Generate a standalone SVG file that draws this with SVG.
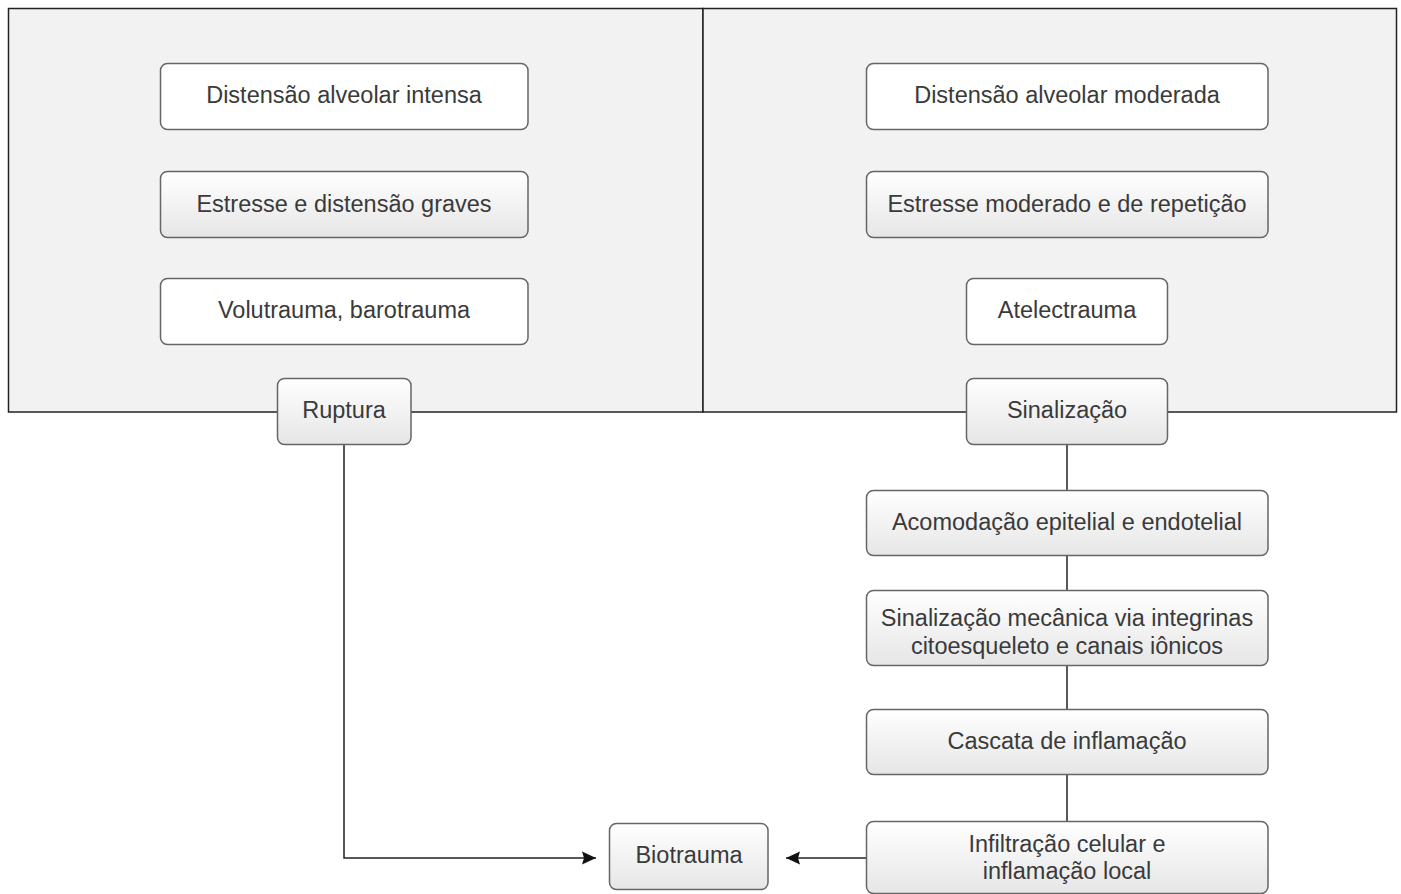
<svg xmlns="http://www.w3.org/2000/svg" width="1401" height="894" viewBox="0 0 1401 894">
<defs>
<linearGradient id="g" x1="0" y1="0" x2="0" y2="1">
<stop offset="0" stop-color="#ffffff"/>
<stop offset="1" stop-color="#e6e6e6"/>
</linearGradient>
<marker id="arr" viewBox="0 0 14 14" refX="14" refY="7" markerWidth="14" markerHeight="14" markerUnits="userSpaceOnUse" orient="auto">
<path d="M0,0.5 L14,7 L0,13.5 L2,7 Z" fill="#111"/>
</marker>
</defs>
<style>
.panel{fill:#f2f2f2;stroke:#222;stroke-width:1.5}
.w{fill:#ffffff;stroke:#666;stroke-width:1.5}
.gr{fill:url(#g);stroke:#666;stroke-width:1.5}
text{font-family:"Liberation Sans",Arial,sans-serif;font-size:23.5px;fill:#3a3a3a;text-anchor:middle}
.c{fill:none;stroke:#222;stroke-width:1.5}
</style>
<rect width="1401" height="894" fill="#ffffff"/>
<g id="panel-left"><rect class="panel" x="8.5" y="8.5" width="694.5" height="403.5"/></g>
<g id="panel-right"><rect class="panel" x="703" y="8.5" width="693.5" height="403.5"/></g>
<g id="connectors">
<path class="c" d="M344,444 V858 H596" marker-end="url(#arr)"/>
<path class="c" d="M866,858 H786" marker-end="url(#arr)"/>
<path class="c" d="M1067,444 V490"/>
<path class="c" d="M1067,555 V590"/>
<path class="c" d="M1067,665 V709"/>
<path class="c" d="M1067,774 V821"/>
</g>
<g id="n1"><rect class="w" x="160.5" y="63.5" width="367.5" height="66" rx="7"/><text x="344" y="103">Distensão alveolar intensa</text></g>
<g id="n2"><rect class="gr" x="160.5" y="171.5" width="367.5" height="66" rx="7"/><text x="344" y="212">Estresse e distensão graves</text></g>
<g id="n3"><rect class="w" x="160.5" y="278.5" width="367.5" height="66" rx="7"/><text x="344" y="318">Volutrauma, barotrauma</text></g>
<g id="n4"><rect class="gr" x="277.5" y="378.5" width="133.5" height="66" rx="7"/><text x="344" y="418">Ruptura</text></g>
<g id="n5"><rect class="w" x="866.5" y="63.5" width="401.5" height="66" rx="7"/><text x="1067" y="103">Distensão alveolar moderada</text></g>
<g id="n6"><rect class="gr" x="866.5" y="171.5" width="401.5" height="66" rx="7"/><text x="1067" y="212">Estresse moderado e de repetição</text></g>
<g id="n7"><rect class="w" x="966.5" y="278.5" width="201" height="66" rx="7"/><text x="1067" y="318">Atelectrauma</text></g>
<g id="n8"><rect class="gr" x="966.5" y="378.5" width="201" height="66" rx="7"/><text x="1067" y="418">Sinalização</text></g>
<g id="n9"><rect class="gr" x="866.5" y="490.5" width="401.5" height="65" rx="7"/><text x="1067" y="530">Acomodação epitelial e endotelial</text></g>
<g id="n10"><rect class="gr" x="866.5" y="590.5" width="401.5" height="75" rx="7"/><text x="1067" y="626">Sinalização mecânica via integrinas</text><text x="1067" y="654">citoesqueleto e canais iônicos</text></g>
<g id="n11"><rect class="gr" x="866.5" y="709.5" width="401.5" height="65" rx="7"/><text x="1067" y="749">Cascata de inflamação</text></g>
<g id="n12"><rect class="gr" x="866.5" y="821.5" width="401.5" height="72" rx="7"/><text x="1067" y="852">Infiltração celular e</text><text x="1067" y="879">inflamação local</text></g>
<g id="n13"><rect class="gr" x="609.5" y="823.5" width="158.5" height="66" rx="7"/><text x="689" y="863">Biotrauma</text></g>
</svg>
